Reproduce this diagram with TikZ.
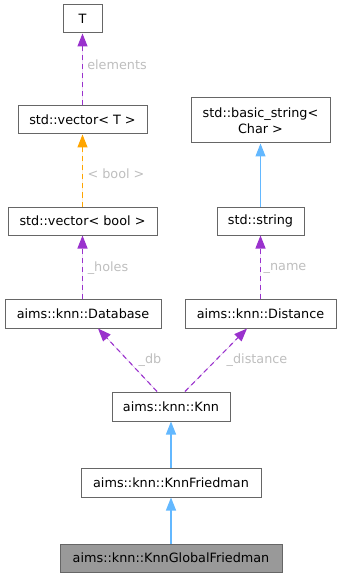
\documentclass[tikz,border=0pt]{standalone}
\usepackage{fontspec}
\setmainfont{DejaVu Sans}
\usetikzlibrary{arrows.meta}
\definecolor{boxline}{HTML}{666666}
\definecolor{usepurple}{HTML}{9A32CD}
\definecolor{tmplorange}{HTML}{FFA500}
\definecolor{inhblue}{HTML}{63B8FF}
\definecolor{lblgray}{HTML}{BEBEBE}
\definecolor{mainfill}{HTML}{999999}
\tikzset{
  cls/.style={draw=boxline, line width=1pt, fill=white, inner sep=0pt, align=center,
    font=\fontsize{12.8}{16}\selectfont, text=black},
  mainbox/.style={cls, fill=mainfill},
  tip/.style={-{Triangle[length=13pt,width=10pt]}},
  usage/.style={tip, draw=usepurple, fill=usepurple, line width=1.1pt, dash pattern=on 5pt off 4pt},
  tmpl/.style={tip, draw=tmplorange, fill=tmplorange, line width=1.1pt, dash pattern=on 5pt off 4pt},
  inh/.style={tip, draw=inhblue, fill=inhblue, line width=1.1pt},
  lbl/.style={text=lblgray, font=\fontsize{12.8}{16}\selectfont, inner sep=0pt}
}
\begin{document}
\begin{tikzpicture}[x=1pt,y=-1pt]
\useasboundingbox (0,0) rectangle (341,577);
\node[cls, minimum width=39pt, minimum height=28pt] (T) at (82.5,19) {T};
\node[cls, minimum width=129pt, minimum height=28pt] (vT) at (82.5,120) {std::vector< T >};
\node[cls, minimum width=149pt, minimum height=28pt] (vB) at (82.5,221) {std::vector< bool >};
\node[cls, minimum width=156pt, minimum height=29pt] (db) at (83,313.5) {aims::knn::Database};
\node[cls, minimum width=151pt, minimum height=29pt] (dist) at (260.5,313.5) {aims::knn::Distance};
\node[cls, minimum width=139pt, minimum height=45pt] (bs) at (260.5,120.5) {std::basic\_string<\\Char >};
\node[cls, minimum width=87pt, minimum height=28pt] (str) at (260.5,221) {std::string};
\node[cls, minimum width=118pt, minimum height=29pt] (knn) at (171,406.5) {aims::knn::Knn};
\node[cls, minimum width=180pt, minimum height=29pt] (kf) at (171,482.5) {aims::knn::KnnFriedman};
\node[mainbox, minimum width=222pt, minimum height=28pt] (kgf) at (171,558) {aims::knn::KnnGlobalFriedman};

\draw[usage] (vT) -- (T);
\node[lbl] (l1) at (117,65) {elements};
\draw[tmpl] (vB) -- (vT);
\node[lbl] (l2) at (116,174) {< bool >};
\draw[usage] (db.north -| vB.south) -- (vB);
\node[lbl] (l3) at (108,268) {\_holes};
\draw[usage] (dist) -- (str);
\node[lbl] (l4) at (285,268) {\_name};
\draw[inh] (str) -- (bs);
\draw[usage] ([xshift=-14pt]knn.north) -- ([xshift=15pt]db.south);
\node[lbl] (l5) at (150,360) {\_db};
\draw[usage] ([xshift=14pt]knn.north) -- ([xshift=-13.5pt]dist.south);
\node[lbl] (l6) at (257,360) {\_distance};
\draw[inh] (kf) -- (knn);
\draw[inh] (kgf) -- (kf);
\end{tikzpicture}
\end{document}
